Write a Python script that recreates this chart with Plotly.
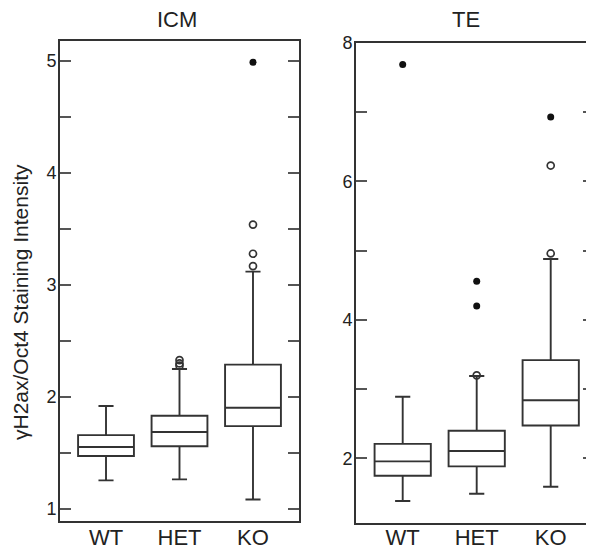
import plotly.graph_objects as go

# The page body adds an 8px offset, so the figure is 8px smaller and all
# reference pixel positions are shifted by OFF.
OFF = 8
W, H = 594 - OFF, 551 - OFF
groups = ["WT", "HET", "KO"]

# ICM box statistics
icm_lower = [1.256, 1.265, 1.085]
icm_q1 = [1.473, 1.56, 1.74]
icm_median = [1.554, 1.6875, 1.905]
icm_q3 = [1.66, 1.833, 2.29]
icm_upper = [1.92, 2.25, 3.12]
icm_open_x = ["HET", "HET", "HET", "KO", "KO", "KO"]
icm_open_y = [2.33, 2.30, 2.28, 3.54, 3.28, 3.17]
icm_filled_x = ["KO"]
icm_filled_y = [4.99]

# TE box statistics
te_lower = [1.385, 1.49, 1.59]
te_q1 = [1.75, 1.885, 2.475]
te_median = [1.957, 2.107, 2.84]
te_q3 = [2.21, 2.40, 3.42]
te_upper = [2.89, 3.19, 4.88]
te_open_x = ["HET", "KO", "KO"]
te_open_y = [3.20, 4.96, 6.23]
te_filled_x = ["WT", "HET", "HET", "KO"]
te_filled_y = [7.69, 4.56, 4.20, 6.93]

icm_ticks = [1, 1.5, 2, 2.5, 3, 3.5, 4, 4.5, 5]
icm_ticktext = ["1", "", "2", "", "3", "", "4", "", "5"]
te_ticks = [2, 3, 4, 5, 6, 7, 8]
te_ticktext = ["2", "", "4", "", "6", "", "8"]

LINE = "#333333"
FONT = "Liberation Sans, Arial, sans-serif"

fig = go.Figure()

def add_panel(xa, ya, lower, q1, med, q3, upper, ox, oy, fx, fy):
    fig.add_trace(go.Box(
        x=groups, q1=q1, median=med, q3=q3, lowerfence=lower, upperfence=upper,
        xaxis=xa, yaxis=ya, width=0.76, whiskerwidth=0.27,
        line=dict(color=LINE, width=1.9), fillcolor="rgba(255,255,255,0)",
        boxpoints=False, showlegend=False, hoverinfo="skip"))
    fig.add_trace(go.Scatter(
        x=ox, y=oy, mode="markers", xaxis=xa, yaxis=ya, showlegend=False,
        marker=dict(symbol="circle-open", size=7, color=LINE, line=dict(width=1.7, color=LINE))))
    fig.add_trace(go.Scatter(
        x=fx, y=fy, mode="markers", xaxis=xa, yaxis=ya, showlegend=False,
        marker=dict(symbol="circle", size=7, color="#111111")))

add_panel("x", "y", icm_lower, icm_q1, icm_median, icm_q3, icm_upper,
          icm_open_x, icm_open_y, icm_filled_x, icm_filled_y)
add_panel("x2", "y2", te_lower, te_q1, te_median, te_q3, te_upper,
          te_open_x, te_open_y, te_filled_x, te_filled_y)

def px_x(p):
    return min(1.0, (p - OFF) / W)

def px_y(p):
    return 1 - (p - OFF) / H

xcommon = dict(type="category", showline=True, linecolor=LINE, linewidth=1.9, mirror=True,
               ticks="", showgrid=False, zeroline=False, automargin=False,
               tickfont=dict(family=FONT, size=22, color="#222222"))
ycommon = dict(showline=True, linecolor=LINE, linewidth=1.9, mirror="ticks",
               ticks="inside", ticklen=11, tickwidth=1.8, tickcolor="#555555",
               showgrid=False, zeroline=False, automargin=False,
               ticklabelstandoff=-2,
               tickfont=dict(family=FONT, size=18, color="#222222"))

fig.update_layout(
    width=W, height=H,
    margin=dict(l=0, r=0, t=0, b=0, autoexpand=False),
    paper_bgcolor="white", plot_bgcolor="white",
    xaxis=dict(**xcommon, domain=[px_x(60), px_x(299)], range=[-0.626, 2.626], anchor="y",
               ticklabelstandoff=-4),
    yaxis=dict(**ycommon, domain=[px_y(521), px_y(41)], range=[0.893, 5.18],
               tickmode="array", tickvals=icm_ticks, ticktext=icm_ticktext, anchor="x"),
    xaxis2=dict(**xcommon, domain=[px_x(356), px_x(594)], range=[-0.631, 2.585], anchor="y2",
                ticklabelstandoff=-6),
    yaxis2=dict(**ycommon, domain=[px_y(523), px_y(43)], range=[1.067, 8.0],
                tickmode="array", tickvals=te_ticks, ticktext=te_ticktext, anchor="x2"),
    annotations=[
        dict(text="ICM", x=px_x(177), y=px_y(20), xref="paper", yref="paper",
             showarrow=False, font=dict(family=FONT, size=22, color="#222222"),
             xanchor="center", yanchor="middle"),
        dict(text="TE", x=px_x(466), y=px_y(20), xref="paper", yref="paper",
             showarrow=False, font=dict(family=FONT, size=22, color="#222222"),
             xanchor="center", yanchor="middle"),
        dict(text="γH2ax/Oct4 Staining Intensity", x=px_x(20), y=px_y(302),
             xref="paper", yref="paper", textangle=-90, showarrow=False,
             font=dict(family=FONT, size=21, color="#222222"),
             xanchor="center", yanchor="middle"),
    ],
)

fig.write_html("out.html")
